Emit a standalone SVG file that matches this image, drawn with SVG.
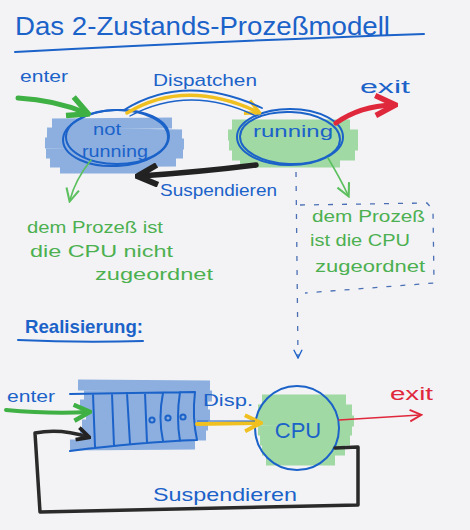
<svg xmlns="http://www.w3.org/2000/svg" width="470" height="530" viewBox="0 0 470 530">
<style>
.ink{fill:#1b62c9;font-family:"Liberation Sans",Arial,sans-serif}
.grn{fill:#4cb050;font-family:"Liberation Sans",Arial,sans-serif}
.red{fill:#e0283c;font-family:"Liberation Sans",Arial,sans-serif}
.hb{stroke:#6a98d8;stroke-width:11;stroke-linecap:butt;opacity:0.75;fill:none}
.hg{stroke:#86d08a;stroke-width:11;stroke-linecap:butt;opacity:0.75;fill:none}
.bl{stroke:#1b62c9;fill:none;stroke-width:2;stroke-linecap:round;stroke-linejoin:round}
</style>
<defs>
<marker id="aG" viewBox="0 0 10 10" refX="8" refY="5" markerWidth="5" markerHeight="5" orient="auto" markerUnits="strokeWidth"><path d="M1,1 L9,5 L1,9" fill="none" stroke="#3fb043" stroke-width="2.2"/></marker>
<marker id="aGt" viewBox="0 0 10 10" refX="8" refY="5" markerWidth="10" markerHeight="10" orient="auto" markerUnits="strokeWidth"><path d="M1,1 L9,5 L1,9" fill="none" stroke="#5cc05f" stroke-width="1.3"/></marker>
<marker id="aY" viewBox="0 0 10 10" refX="8" refY="5" markerWidth="5" markerHeight="5" orient="auto" markerUnits="strokeWidth"><path d="M1,1 L9,5 L1,9" fill="none" stroke="#f0c020" stroke-width="2"/></marker>
<marker id="aR" viewBox="0 0 10 10" refX="8" refY="5" markerWidth="5" markerHeight="5" orient="auto" markerUnits="strokeWidth"><path d="M1,1 L9,5 L1,9" fill="none" stroke="#e0283c" stroke-width="2.2"/></marker>
<marker id="aRt" viewBox="0 0 10 10" refX="8" refY="5" markerWidth="9" markerHeight="9" orient="auto" markerUnits="strokeWidth"><path d="M1,1 L9,5 L1,9" fill="none" stroke="#e0283c" stroke-width="1.3"/></marker>
<marker id="aK" viewBox="0 0 10 10" refX="8" refY="5" markerWidth="4.5" markerHeight="4.5" orient="auto" markerUnits="strokeWidth"><path d="M1,1 L9,5 L1,9" fill="none" stroke="#222" stroke-width="2.4"/></marker>
<marker id="aB" viewBox="0 0 10 10" refX="8" refY="5" markerWidth="8" markerHeight="8" orient="auto" markerUnits="strokeWidth"><path d="M1,1 L9,5 L1,9" fill="none" stroke="#1b62c9" stroke-width="1.3"/></marker>
</defs>
<rect width="470" height="530" fill="#f3f3f5"/>

<g id="title">
<text class="ink" x="15" y="35" font-size="26" textLength="375" lengthAdjust="spacingAndGlyphs">Das 2-Zustands-Prozeßmodell</text>
<path class="bl" d="M15,52 Q200,42 424,34"/>
</g>

<g id="node-notrunning">
<path class="hb" d="M52,124 L172,123 M47,133 L182,135 M45,143 L184,144 M46,153 L183,153 M50,162 L176,161 M60,168 L150,168"/>
<ellipse cx="116" cy="138" rx="53" ry="28" class="bl" transform="rotate(-3 116 138)"/>
<ellipse cx="117" cy="137" rx="51" ry="27" class="bl" stroke-width="1.4"/>
<text class="ink" x="107" y="135" font-size="17" text-anchor="middle" textLength="28" lengthAdjust="spacingAndGlyphs">not</text>
<text class="ink" x="115" y="157" font-size="16" text-anchor="middle" textLength="66" lengthAdjust="spacingAndGlyphs">running</text>
</g>

<g id="node-running">
<path class="hg" d="M232,125 L350,125 M228,135 L358,135 M229,145 L358,145 M232,155 L355,155 M240,162 L340,162"/>
<ellipse cx="290" cy="137" rx="53" ry="28" class="bl"/>
<ellipse cx="290" cy="138" rx="50" ry="26" class="bl" stroke-width="1.4" transform="rotate(2 290 138)"/>
<text class="ink" x="293" y="137" font-size="17" text-anchor="middle" textLength="80" lengthAdjust="spacingAndGlyphs">running</text>
</g>

<g id="note-left">
<text class="grn" x="27" y="233" font-size="16" textLength="136" lengthAdjust="spacingAndGlyphs">dem Prozeß ist</text>
<text class="grn" x="30" y="257" font-size="16" textLength="143" lengthAdjust="spacingAndGlyphs">die CPU nicht</text>
<text class="grn" x="95" y="280" font-size="16" textLength="118" lengthAdjust="spacingAndGlyphs">zugeordnet</text>
</g>

<g id="note-right">
<path d="M300,205 L427,203 L433,210 L434,283 L305,293" fill="none" stroke="#4a6fb5" stroke-width="1.3" stroke-dasharray="5 9"/>
<text class="grn" x="312" y="222" font-size="16" textLength="113" lengthAdjust="spacingAndGlyphs">dem Prozeß</text>
<text class="grn" x="310" y="246" font-size="16" textLength="100" lengthAdjust="spacingAndGlyphs">ist die CPU</text>
<text class="grn" x="315" y="272" font-size="16" textLength="110" lengthAdjust="spacingAndGlyphs">zugeordnet</text>
</g>

<g id="heading-realisierung">
<text class="ink" x="25" y="333" font-size="19" font-weight="bold" textLength="118" lengthAdjust="spacingAndGlyphs">Realisierung:</text>
<path class="bl" d="M18,340 Q80,343 143,341"/>
</g>

<g id="node-queue">
<path class="hb" d="M78,385 L210,386 M84,395 L212,396 M80,405 L208,405 M86,415 L210,415 M82,425 L208,425 M80,435 L206,435 M70,445 L195,444"/>
<path class="bl" stroke-width="1.6" d="M70,394 L195,392 Q192,418 197,440 Q140,442 70,451 M93,394 L95,447 M112,394 L114,446 M127,393 L130,444 M145,393 L147,443 M163,393 Q158,418 163,441 M180,392 Q176,418 180,441"/>
<circle cx="152" cy="420" r="2.6" class="bl" stroke-width="1.8"/>
<circle cx="168" cy="418" r="2.6" class="bl" stroke-width="1.8"/>
<circle cx="183" cy="417" r="2.6" class="bl" stroke-width="1.8"/>
</g>

<g id="node-cpu">
<path class="hg" d="M262,400 L346,400 M258,410 L352,410 M257,420 L354,421 M258,430 L352,430 M260,440 L350,440 M262,450 L345,450 M266,460 L335,460"/>
<circle cx="297" cy="428" r="42" class="bl" stroke-width="1.8"/>
<text class="ink" x="298" y="438" font-size="22" text-anchor="middle">CPU</text>
</g>

<g id="connectors">
<path d="M18,98 Q55,100 86,113" fill="none" stroke="#3fb043" stroke-width="5" stroke-linecap="round" marker-end="url(#aG)"/>
<path d="M127,113 Q185,78 258,112" fill="none" stroke="#f0c020" stroke-width="3.5" stroke-linecap="round" marker-end="url(#aY)"/>
<path d="M124,110 Q185,72 262,108" fill="none" stroke="#1b62c9" stroke-width="1.8" stroke-linecap="round"/>
<path d="M130,116 Q190,84 256,116" fill="none" stroke="#1b62c9" stroke-width="1.4" stroke-linecap="round"/>
<path d="M336,123 Q360,106 393,105" fill="none" stroke="#e0283c" stroke-width="5" stroke-linecap="round" marker-end="url(#aR)"/>
<path d="M256,165 Q200,172 140,176" fill="none" stroke="#222" stroke-width="5.5" stroke-linecap="round" marker-end="url(#aK)"/>
<path d="M91,160 Q75,180 70,200" fill="none" stroke="#5cc05f" stroke-width="1.6" stroke-linecap="round" marker-end="url(#aGt)"/>
<path d="M328,158 Q340,178 348,195" fill="none" stroke="#5cc05f" stroke-width="1.6" stroke-linecap="round" marker-end="url(#aGt)"/>
<path d="M296,172 L298,357" fill="none" stroke="#4a6fb5" stroke-width="1.3" stroke-dasharray="5 9" marker-end="url(#aB)"/>
<path d="M6,410 Q50,414 88,412" fill="none" stroke="#3fb043" stroke-width="4" stroke-linecap="round" marker-end="url(#aG)"/>
<path d="M197,424 L259,423" fill="none" stroke="#f0c020" stroke-width="4" stroke-linecap="round" marker-end="url(#aY)"/>
<path d="M197,421 L255,421" fill="none" stroke="#1b62c9" stroke-width="1.2"/>
<path d="M339,420 L420,415" fill="none" stroke="#e0283c" stroke-width="1.6" stroke-linecap="round" marker-end="url(#aRt)"/>
<path d="M335,448 L358,447 L358,505 L40,512 L35,433 Q60,428 88,437" fill="none" stroke="#2a2a2a" stroke-width="3.5" stroke-linejoin="round" stroke-linecap="round" marker-end="url(#aK)"/>
</g>

<g id="labels">
<text class="ink" x="20" y="82" font-size="16" textLength="48" lengthAdjust="spacingAndGlyphs">enter</text>
<text class="ink" x="153" y="86" font-size="17" textLength="104" lengthAdjust="spacingAndGlyphs">Dispatchen</text>
<text class="ink" x="360" y="93" font-size="18" textLength="50" lengthAdjust="spacingAndGlyphs">exit</text>
<text class="ink" x="160" y="196" font-size="17" textLength="117" lengthAdjust="spacingAndGlyphs">Suspendieren</text>
<text class="ink" x="7" y="402" font-size="16" textLength="48" lengthAdjust="spacingAndGlyphs">enter</text>
<text class="ink" x="203" y="406" font-size="17" textLength="50" lengthAdjust="spacingAndGlyphs">Disp.</text>
<text class="red" x="390" y="400" font-size="18" textLength="43" lengthAdjust="spacingAndGlyphs">exit</text>
<text class="ink" x="153" y="501" font-size="19" textLength="144" lengthAdjust="spacingAndGlyphs">Suspendieren</text>
</g>
</svg>
